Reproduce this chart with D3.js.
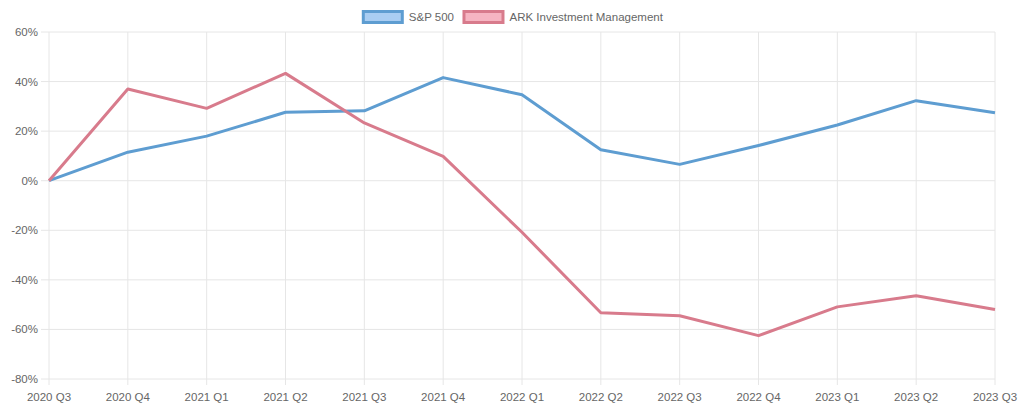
<!DOCTYPE html>
<html>
<head>
<meta charset="utf-8">
<script src="https://cdn.jsdelivr.net/npm/d3@7"></script>
<style>
  body { margin: 0; background: #fff; }
  svg { display: block; font-family: "Liberation Sans", Arial, sans-serif; }
</style>
</head>
<body>
<div id="chart"></div>
<script>
// Chart data
const quarters = ["2020 Q3", "2020 Q4", "2021 Q1", "2021 Q2", "2021 Q3", "2021 Q4", "2022 Q1",
  "2022 Q2", "2022 Q3", "2022 Q4", "2023 Q1", "2023 Q2", "2023 Q3"];
const spValues = [0, 11.5, 18, 27.6, 28.2, 41.6, 34.7, 12.5, 6.6, 14.2, 22.5, 32.3, 27.4];
const arkValues = [0, 37, 29.2, 43.3, 23.3, 9.8, -20.8, -53.3, -54.5, -62.5, -50.9, -46.4, -52];
const yTicks = [60, 40, 20, 0, -20, -40, -60, -80];

const series = [
  { name: "S&P 500", values: spValues, stroke: "#5e9dd1", fill: "#a9cdf2" },
  { name: "ARK Investment Management", values: arkValues, stroke: "#d87b8c", fill: "#f6b5c2" },
];

const svgWidth = 1024,
  svgHeight = 416;
const margin = { top: 32, right: 29, bottom: 37, left: 49 },
  width = svgWidth - margin.left - margin.right,
  height = svgHeight - margin.top - margin.bottom;

const svg = d3
  .select("#chart")
  .append("svg")
  .attr("width", svgWidth)
  .attr("height", svgHeight);

const g = svg.append("g").attr("transform", "translate(" + margin.left + "," + margin.top + ")");

const x = d3.scalePoint().domain(quarters).range([0, width]);
const y = d3.scaleLinear().domain([-80, 60]).range([height, 0]);

// grid lines (with the little tick overhang like Chart.js)
g.append("g")
  .selectAll("line")
  .data(yTicks)
  .enter()
  .append("line")
  .attr("x1", -8)
  .attr("x2", width)
  .attr("y1", (d) => y(d))
  .attr("y2", (d) => y(d))
  .attr("stroke", "#e6e6e6")
  .attr("stroke-width", 1);

g.append("g")
  .selectAll("line")
  .data(quarters)
  .enter()
  .append("line")
  .attr("x1", (d) => x(d))
  .attr("x2", (d) => x(d))
  .attr("y1", 0)
  .attr("y2", height + 6)
  .attr("stroke", "#e6e6e6")
  .attr("stroke-width", 1);

// y labels
g.append("g")
  .selectAll("text")
  .data(yTicks)
  .enter()
  .append("text")
  .attr("x", -11)
  .attr("y", (d) => y(d))
  .attr("dy", "0.35em")
  .attr("text-anchor", "end")
  .attr("fill", "#666")
  .style("font-size", "11.5px")
  .text((d) => d + "%");

// x labels
g.append("g")
  .selectAll("text")
  .data(quarters)
  .enter()
  .append("text")
  .attr("x", (d) => x(d))
  .attr("y", height + 22)
  .attr("text-anchor", "middle")
  .attr("fill", "#666")
  .style("font-size", "11.5px")
  .text((d) => d);

// lines
const line = d3
  .line()
  .x((d, i) => x(quarters[i]))
  .y((d) => y(d));

g.selectAll(".series")
  .data(series)
  .enter()
  .append("path")
  .attr("class", "series")
  .attr("fill", "none")
  .attr("stroke", (d) => d.stroke)
  .attr("stroke-width", 3)
  .attr("stroke-linejoin", "round")
  .attr("d", (d) => line(d.values));

// legend
const legend = svg.append("g").attr("transform", "translate(0,10)");
const items = legend
  .selectAll("g")
  .data(series)
  .enter()
  .append("g");

items
  .append("rect")
  .attr("width", 39)
  .attr("height", 11)
  .attr("x", 1.5)
  .attr("y", 1.5)
  .attr("fill", (d) => d.fill)
  .attr("stroke", (d) => d.stroke)
  .attr("stroke-width", 3);

items
  .append("text")
  .attr("x", 47)
  .attr("y", 7)
  .attr("dy", "0.35em")
  .attr("fill", "#666")
  .style("font-size", "11.5px")
  .text((d) => d.name);

// lay out legend items centred
let widths = [];
items.each(function () {
  widths.push(this.getBBox().width);
});
const gap = 10;
const total = d3.sum(widths) + gap * (widths.length - 1);
let cur = (svgWidth - total) / 2;
items.attr("transform", function (d, i) {
  const t = "translate(" + cur + ",0)";
  cur += widths[i] + gap;
  return t;
});
</script>
</body>
</html>
